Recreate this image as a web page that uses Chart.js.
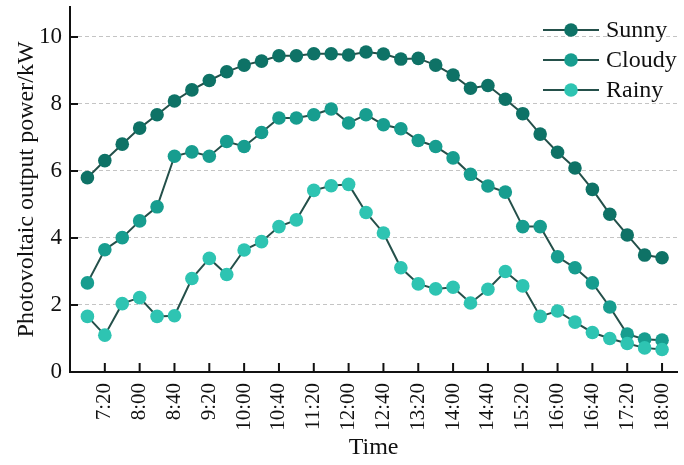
<!DOCTYPE html>
<html>
<head>
<meta charset="utf-8">
<script src="https://cdn.jsdelivr.net/npm/chart.js@4.4.1/dist/chart.umd.min.js"></script>
<style>
  html, body { margin: 0; padding: 0; background: #fff; }
  #wrap { width: 684px; height: 465px; }
</style>
</head>
<body>
<div id="wrap"><canvas id="pvChart"></canvas></div>
<script>
// 20-minute samples from 7:00 to 18:00
const times = [
  "7:00", "7:20", "7:40", "8:00", "8:20", "8:40", "9:00", "9:20", "9:40",
  "10:00", "10:20", "10:40", "11:00", "11:20", "11:40", "12:00", "12:20",
  "12:40", "13:00", "13:20", "13:40", "14:00", "14:20", "14:40", "15:00",
  "15:20", "15:40", "16:00", "16:20", "16:40", "17:00", "17:20", "17:40", "18:00"
];
const sunny = [
  5.80, 6.31, 6.80, 7.28, 7.68, 8.09, 8.42, 8.70, 8.96, 9.16, 9.28, 9.44,
  9.44, 9.50, 9.50, 9.46, 9.55, 9.49, 9.34, 9.36, 9.16, 8.86, 8.47, 8.55,
  8.14, 7.71, 7.10, 6.56, 6.09, 5.45, 4.71, 4.09, 3.49, 3.41
];
const cloudy = [
  2.66, 3.65, 4.01, 4.51, 4.93, 6.44, 6.57, 6.44, 6.88, 6.73, 7.15, 7.58,
  7.58, 7.68, 7.85, 7.43, 7.68, 7.38, 7.26, 6.91, 6.73, 6.39, 5.90, 5.55,
  5.37, 4.34, 4.34, 3.44, 3.11, 2.66, 1.94, 1.13, 0.98, 0.95
];
const rainy = [
  1.66, 1.10, 2.04, 2.22, 1.66, 1.68, 2.79, 3.39, 2.91, 3.64, 3.89, 4.34,
  4.54, 5.42, 5.56, 5.60, 4.76, 4.15, 3.11, 2.63, 2.48, 2.53, 2.06, 2.47,
  3.00, 2.57, 1.66, 1.82, 1.49, 1.18, 1.00, 0.85, 0.72, 0.67
];
const yTicks = [0, 2, 4, 6, 8, 10];

const FONT = "'Liberation Serif', 'Times New Roman', serif";
const lineCol = "#24504a";
const seriesList = [
  { label: "Sunny", data: sunny, color: "#0e7266", order: 2 },
  { label: "Cloudy", data: cloudy, color: "#179d8f", order: 1 },
  { label: "Rainy", data: rainy, color: "#2ec4b2", order: 0 },
];

const toPoints = (arr) => arr.map((v, i) => ({ x: i, y: v }));

// short inward tick marks + line/marker legend
const innerTicks = {
  id: "innerTicks",
  afterDraw(chart) {
    const ctx = chart.ctx;
    const xs = chart.scales.x, ys = chart.scales.y;
    ctx.save();
    ctx.strokeStyle = "#111";
    ctx.lineWidth = 2;
    ctx.beginPath();
    ys.ticks.forEach((t) => {
      if (t.value === 0) return;
      const py = ys.getPixelForValue(t.value);
      ctx.moveTo(xs.left, py);
      ctx.lineTo(xs.left + 8, py);
    });
    xs.ticks.forEach((t) => {
      const px = xs.getPixelForValue(t.value);
      ctx.moveTo(px, ys.bottom);
      ctx.lineTo(px, ys.bottom - 9);
    });
    ctx.stroke();

    // legend
    const lx = 543, rowY = [30, 60, 90];
    ctx.font = "24px " + FONT;
    ctx.textBaseline = "middle";
    ctx.textAlign = "left";
    seriesList.forEach((s, k) => {
      const y = rowY[k];
      ctx.strokeStyle = lineCol;
      ctx.lineWidth = 2;
      ctx.beginPath();
      ctx.moveTo(lx, y);
      ctx.lineTo(lx + 56, y);
      ctx.stroke();
      ctx.fillStyle = s.color;
      ctx.beginPath();
      ctx.arc(lx + 28, y, 6.8, 0, Math.PI * 2);
      ctx.fill();
      ctx.fillStyle = "#111";
      ctx.fillText(s.label, lx + 63, y + 1);
    });
    ctx.restore();
  },
};

const datasets = seriesList.map((s) => ({
  label: s.label,
  data: toPoints(s.data),
  order: s.order,
  borderColor: lineCol,
  borderWidth: 2,
  backgroundColor: s.color,
  pointBackgroundColor: s.color,
  pointBorderColor: s.color,
  pointBorderWidth: 0,
  pointRadius: 6.8,
  tension: 0,
}));

new Chart(document.getElementById("pvChart"), {
  type: "line",
  data: { datasets: datasets },
  plugins: [innerTicks],
  options: {
    responsive: true,
    maintainAspectRatio: false,
    animation: false,
    layout: { padding: { top: 0, right: 0, left: 0, bottom: 0 } },
    plugins: { legend: { display: false }, tooltip: { enabled: false } },
    scales: {
      x: {
        type: "linear",
        min: -1,
        max: 33.87,
        afterBuildTicks: (axis) => {
          axis.ticks = times
            .map((t, i) => ({ value: i }))
            .filter((t) => t.value % 2 === 1);
        },
        afterFit: (axis) => {
          axis.height = 93;
          axis.paddingLeft = 0;
          axis.paddingRight = 0;
        },
        ticks: {
          minRotation: 90,
          maxRotation: 90,
          autoSkip: false,
          padding: 11,
          color: "#111",
          font: { family: FONT, size: 21 },
          callback: (v) => times[v],
        },
        grid: { display: false, drawTicks: false },
        border: { display: true, color: "#111", width: 2 },
        title: {
          display: true,
          text: "Time",
          color: "#111",
          font: { family: FONT, size: 24 },
          padding: { top: 0, bottom: 3 },
        },
      },
      y: {
        min: 0,
        max: 10.9,
        afterBuildTicks: (axis) => {
          axis.ticks = yTicks.map((v) => ({ value: v }));
        },
        afterFit: (axis) => {
          axis.width = 70;
          axis.paddingTop = 0;
          axis.paddingBottom = 0;
        },
        ticks: {
          padding: 8,
          color: "#111",
          font: { family: FONT, size: 23 },
        },
        grid: {
          drawTicks: false,
          color: (c) => (c.tick && c.tick.value === 0 ? "rgba(0,0,0,0)" : "#c4c4c4"),
          lineWidth: 1,
        },
        border: { display: true, color: "#111", width: 2, dash: [4, 3] },
        title: {
          display: true,
          text: "Photovoltaic output power/kW",
          color: "#111",
          font: { family: FONT, size: 24 },
          padding: { top: 12, bottom: 2 },
        },
      },
    },
  },
});
</script>
</body>
</html>
